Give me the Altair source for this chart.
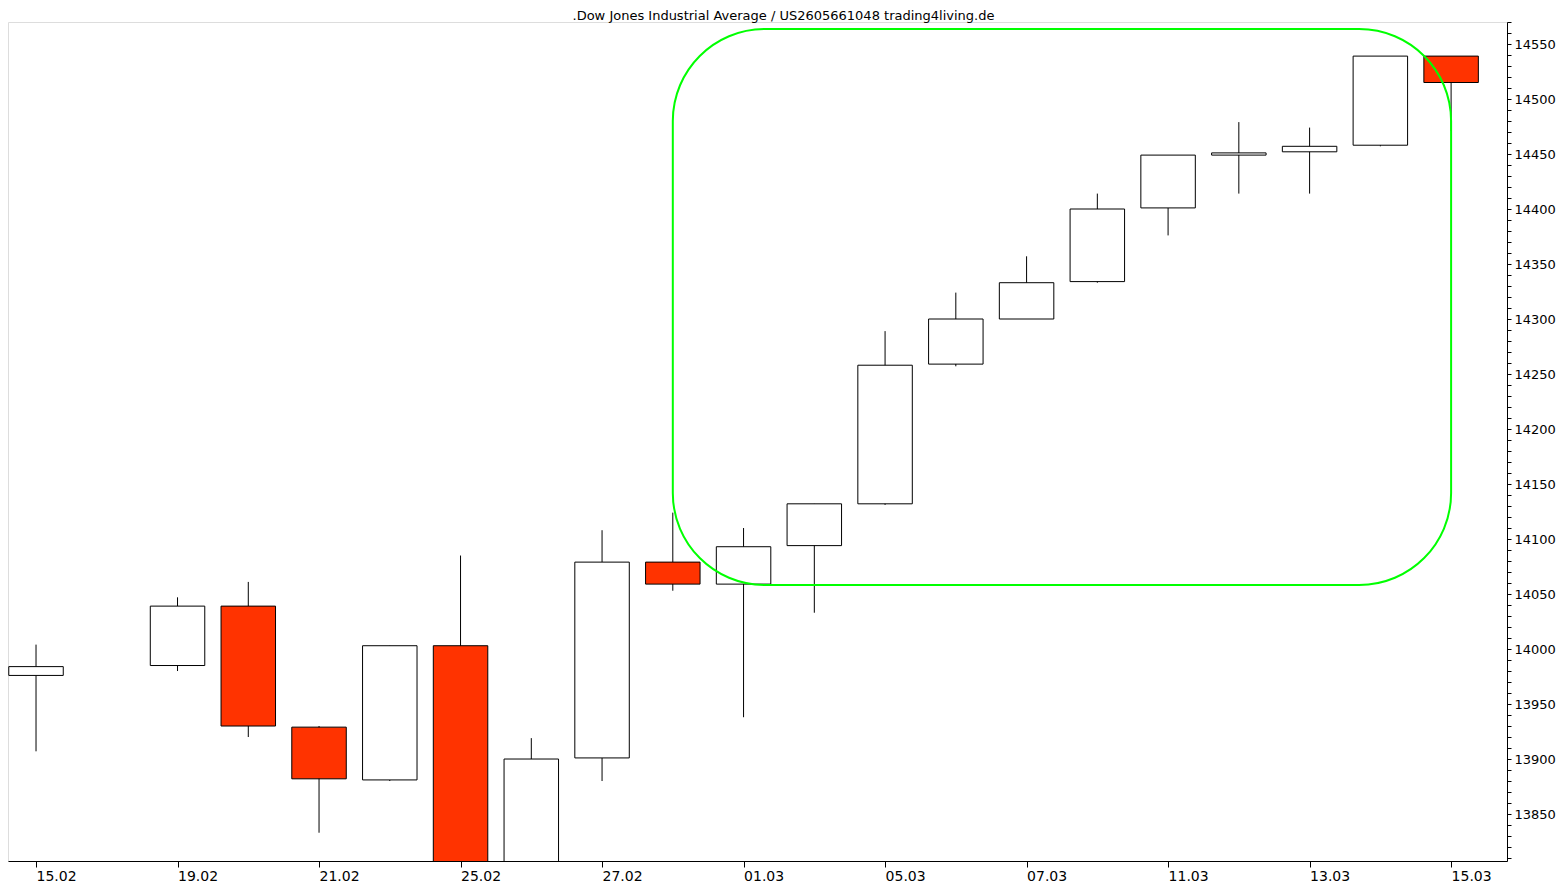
import altair as alt
import pandas as pd

# trading-day slots (slot 1 = 18.02, market holiday, no candle)
slots = [0, 2, 3, 4, 5, 6, 7, 8, 9, 10, 11, 12, 13, 14, 15, 16, 17, 18, 19, 20]
opens = [13976, 13985, 14039, 13929, 13881, 14003, 13784, 13901, 14079, 14059,
         14094, 14132, 14259, 14300, 14334, 14401, 14449, 14452, 14458, 14539]
highs = [14004, 14047, 14061, 13930, 14003, 14085, 13919, 14108, 14124, 14110,
         14132, 14289, 14324, 14357, 14414, 14449, 14479, 14474, 14539, 14539]
lows = [13907, 13980, 13920, 13833, 13880, 13784, 13784, 13880, 14053, 13938,
        14033, 14131, 14257, 14300, 14333, 14376, 14414, 14414, 14457, 14471]
closes = [13984, 14039, 13930, 13882, 14003, 13784, 13900, 14079, 14059, 14093,
          14132, 14258, 14300, 14333, 14400, 14449, 14451, 14457, 14539, 14515]

tick_slots = [0, 2, 4, 6, 8, 10, 12, 14, 16, 18, 20]
tick_labels = ["15.02", "19.02", "21.02", "25.02", "27.02", "01.03",
               "05.03", "07.03", "11.03", "13.03", "15.03"]

# highlight box (slot range, value range)
box_x = [9]
box_x2 = [20]
box_y = [14563.6]
box_y2 = [14058.2]

title_text = ".Dow Jones Industrial Average / US2605661048 trading4living.de"

df = pd.DataFrame({"slot": slots, "open": opens, "high": highs,
                   "low": lows, "close": closes})
df["dir"] = ["up" if c >= o else "down" for o, c in zip(opens, closes)]

box = pd.DataFrame({"x": box_x, "x2": box_x2, "y": box_y, "y2": box_y2})

label_map = "{" + ",".join(f'"{s}":"{l}"' for s, l in zip(tick_slots, tick_labels)) + "}"

FONT = "DejaVu Sans"

xscale = alt.Scale(domain=[-0.396, 20.79], nice=False, zero=False)
yscale = alt.Scale(domain=[13807.3, 14570.0], nice=False, zero=False)

xaxis = alt.Axis(values=tick_slots, labelExpr=f"{label_map}[datum.value]",
                 tickCount=50,
                 title=None, grid=False, orient="bottom", labelAlign="left",
                 labelPadding=2, tickSize=6, labelFontSize=14, labelFont=FONT,
                 labelColor="black", domainColor="black", tickColor="black",
                 labelOverlap=False, labelFlush=False)
yaxis = alt.Axis(values=list(range(13810, 14580, 10)), tickCount=200,
                 labelExpr="datum.value % 50 === 0 ? datum.label : ''",
                 format="d", title=None, grid=False, orient="right",
                 tickSize=4, labelPadding=3, labelFontSize=13, labelFont=FONT,
                 labelColor="black", domainColor="black", tickColor="black",
                 labelOverlap=False, labelFlush=False, labelBaseline="middle")

base = alt.Chart(df)

wicks = base.mark_rule(color="black", strokeWidth=1, clip=True).encode(
    x=alt.X("slot:Q", scale=xscale, axis=xaxis),
    y=alt.Y("low:Q", scale=yscale, axis=yaxis),
    y2="high:Q",
)

bodies = base.transform_calculate(
    xl="datum.slot - 0.385", xr="datum.slot + 0.385"
).mark_rect(stroke="black", strokeWidth=1, clip=True).encode(
    x=alt.X("xl:Q", scale=xscale),
    x2="xr:Q",
    y=alt.Y("open:Q", scale=yscale),
    y2="close:Q",
    fill=alt.Fill("dir:N", scale=alt.Scale(domain=["up", "down"],
                                           range=["white", "#FF3300"]),
                  legend=None),
)

highlight = alt.Chart(box).mark_rect(
    fillOpacity=0, stroke="#00FF00", strokeWidth=2, cornerRadius=92, clip=True
).encode(
    x=alt.X("x:Q", scale=xscale),
    x2="x2:Q",
    y=alt.Y("y:Q", scale=yscale),
    y2="y2:Q",
)

chart = alt.layer(wicks, bodies, highlight).properties(
    width=1499,
    height=839,
    title=alt.TitleParams(title_text, font=FONT, fontSize=13, fontWeight="normal",
                          anchor="middle", color="black", offset=-7, dx=26),
    autosize=alt.AutoSizeParams(type="none"),
    padding={"left": 0, "top": 14, "right": 50, "bottom": 24},
).configure_view(stroke="black", strokeWidth=1).configure(background="white")

chart.save("out.html", embed_options={"renderer": "svg", "actions": False})
